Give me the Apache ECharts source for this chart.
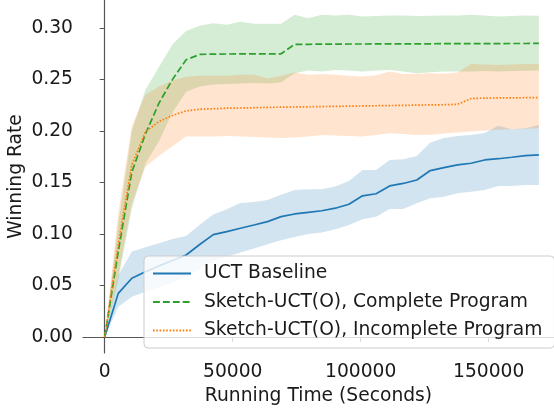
<!DOCTYPE html>
<html><head><meta charset="utf-8">
<script src="https://cdn.jsdelivr.net/npm/echarts@6/dist/echarts.min.js"></script>
<style>html,body{margin:0;padding:0;background:#fff}#c{width:554px;height:413px}</style>
</head><body><div id="c"></div>
<script>
const times = [0,5300,10600,15900,21200,26500,31800,37100,42400,47700,53000,58300,63600,68900,74200,79500,84800,90100,95400,100700,106000,111300,116600,121900,127200,132500,137800,143100,148400,153700,159000,164300,169600];

const uctMean = [0,0.0424,0.057,0.0634,0.069,0.0742,0.0796,0.0898,0.0993,0.1022,0.1055,0.1087,0.112,0.1168,0.1194,0.121,0.1225,0.125,0.1288,0.137,0.139,0.1466,0.149,0.1524,0.1615,0.1644,0.167,0.1686,0.1718,0.173,0.1744,0.176,0.1767];
const uctHigh = [0,0.06,0.083,0.087,0.091,0.095,0.098,0.109,0.119,0.124,0.13,0.131,0.133,0.138,0.1427,0.1435,0.1434,0.146,0.1515,0.162,0.162,0.1718,0.1725,0.1757,0.1887,0.193,0.195,0.196,0.198,0.205,0.2016,0.2026,0.2058];
const uctLow = [0,0.0294,0.039,0.044,0.048,0.053,0.058,0.066,0.074,0.078,0.082,0.086,0.09,0.094,0.097,0.1,0.1013,0.1045,0.1087,0.1143,0.1168,0.1243,0.1243,0.1298,0.1347,0.1362,0.1395,0.141,0.1427,0.1466,0.1466,0.1476,0.1476];

const completeMean = [0,0.083,0.16,0.197,0.227,0.25,0.269,0.2742,0.2745,0.2746,0.2747,0.2748,0.2748,0.2748,0.284,0.284,0.2842,0.2842,0.2843,0.2843,0.2844,0.2844,0.2845,0.2845,0.2845,0.2846,0.2846,0.2846,0.2847,0.2847,0.2848,0.2848,0.2849];
const completeHigh = [0,0.11,0.2,0.24,0.262,0.284,0.297,0.302,0.3045,0.303,0.306,0.304,0.304,0.304,0.3126,0.3094,0.3126,0.312,0.3126,0.311,0.3115,0.312,0.312,0.3115,0.3118,0.312,0.312,0.3126,0.312,0.311,0.3115,0.312,0.3117];
const completeLow = [0,0.055,0.125,0.168,0.19,0.218,0.238,0.243,0.245,0.2455,0.246,0.2465,0.246,0.247,0.256,0.2586,0.2576,0.2592,0.2586,0.2576,0.2585,0.2592,0.2576,0.256,0.257,0.2576,0.2576,0.2576,0.258,0.2576,0.258,0.2583,0.2586];

const incompleteMean = [0,0.09,0.167,0.199,0.209,0.215,0.2194,0.221,0.2215,0.222,0.2222,0.2225,0.2228,0.223,0.2232,0.2234,0.2236,0.2238,0.224,0.2242,0.2244,0.2246,0.2248,0.225,0.2252,0.2254,0.2258,0.2314,0.2318,0.232,0.232,0.2322,0.2323];
const incompleteHigh = [0,0.12,0.205,0.235,0.243,0.249,0.2525,0.2535,0.2535,0.2534,0.2544,0.2545,0.2508,0.2534,0.2566,0.2544,0.2553,0.2545,0.2535,0.2527,0.254,0.2576,0.2553,0.2555,0.256,0.2555,0.2566,0.265,0.2645,0.264,0.2645,0.2648,0.265];
const incompleteLow = [0,0.06,0.13,0.165,0.176,0.185,0.1945,0.1945,0.1945,0.195,0.1945,0.194,0.1935,0.193,0.1935,0.1945,0.196,0.1955,0.195,0.1945,0.196,0.1977,0.197,0.196,0.1962,0.1975,0.1985,0.1995,0.2005,0.201,0.2015,0.202,0.2026];

const seriesNames = ['UCT Baseline','Sketch-UCT(O), Complete Program','Sketch-UCT(O), Incomplete Program'];
const xTicks = [0,50000,100000,150000];
const yTicks = [0,0.05,0.10,0.15,0.20,0.25,0.30];

const C_BLUE='#1f77b4', C_GREEN='#2ca02c', C_ORANGE='#ff7f0e';
const FONT='DejaVu Sans';
const FS=18.7;

function band(id, lo, hi, fill){
  return {
    type:'custom', name:id, silent:true, z:1,
    data: times.map((t,i)=>[t, lo[i], hi[i]]),
    encode:{x:0, y:[1,2]},
    renderItem:function(params, api){
      if(params.dataIndex!==0) return null;
      const pts=[];
      for(let i=0;i<times.length;i++) pts.push(api.coord([times[i], hi[i]]));
      for(let i=times.length-1;i>=0;i--) pts.push(api.coord([times[i], lo[i]]));
      return {type:'polygon', shape:{points:pts}, style:{fill:fill}};
    }
  };
}
function line(name, vals, color, type){
  return {
    type:'line', name:name, symbol:'none', z:3,
    data: times.map((t,i)=>[t, vals[i]]),
    lineStyle:{color:color, width:1.7, type:type},
    itemStyle:{color:color},
    emphasis:{disabled:true}
  };
}

const chart = echarts.init(document.getElementById('c'), null, {renderer:'canvas'});
chart.setOption({
  animation:false,
  backgroundColor:'#ffffff',
  grid:{left:83, right:0, top:0, bottom:60, containLabel:false, outerBoundsMode:'none'},
  legend:{
    data:seriesNames, orient:'vertical', left:144, top:256,
    backgroundColor:'rgba(255,255,255,0.8)', borderColor:'#cccccc', borderWidth:1, borderRadius:4,
    padding:[8,12,8,8], itemWidth:38, itemHeight:14, itemGap:9.5,
    itemStyle:{opacity:0},
    textStyle:{fontFamily:FONT, fontSize:FS, color:'#1a1a1a', lineHeight:18, padding:[0,0,0,8]}
  },
  xAxis:{
    type:'value', min:-8480, max:175500,
    name:'Running Time (Seconds)', nameLocation:'middle', nameGap:34, nameMoveOverlap:false,
    nameTextStyle:{fontFamily:FONT, fontSize:FS, color:'#1a1a1a'},
    axisLine:{show:true, lineStyle:{color:'#555555', width:1.2}},
    axisTick:{show:true, length:5, customValues:xTicks, lineStyle:{color:'#555555'}},
    axisLabel:{customValues:xTicks, margin:10, fontFamily:FONT, fontSize:FS, color:'#1a1a1a',
      formatter:function(v){return String(v);}},
    splitLine:{show:false}
  },
  yAxis:{
    type:'value', min:-0.0155, max:0.327,
    name:'Winning Rate', nameLocation:'middle', nameGap:57, nameMoveOverlap:false,
    nameTextStyle:{fontFamily:FONT, fontSize:FS, color:'#1a1a1a'},
    axisLine:{show:true, lineStyle:{color:'#555555', width:1.2}},
    axisTick:{show:true, length:5, customValues:yTicks, lineStyle:{color:'#555555'}},
    axisLabel:{customValues:yTicks, margin:10, fontFamily:FONT, fontSize:FS, color:'#1a1a1a',
      formatter:function(v){return v.toFixed(2);}},
    splitLine:{show:false}
  },
  series:[
    band('uctBand', uctLow, uctHigh, 'rgba(31,119,180,0.2)'),
    line(seriesNames[0], uctMean, C_BLUE, 'solid'),
    band('completeBand', completeLow, completeHigh, 'rgba(44,160,44,0.2)'),
    line(seriesNames[1], completeMean, C_GREEN, [6.9,3.0]),
    band('incompleteBand', incompleteLow, incompleteHigh, 'rgba(255,127,14,0.2)'),
    line(seriesNames[2], incompleteMean, C_ORANGE, [1.6,1.7])
  ]
});
</script></body></html>
